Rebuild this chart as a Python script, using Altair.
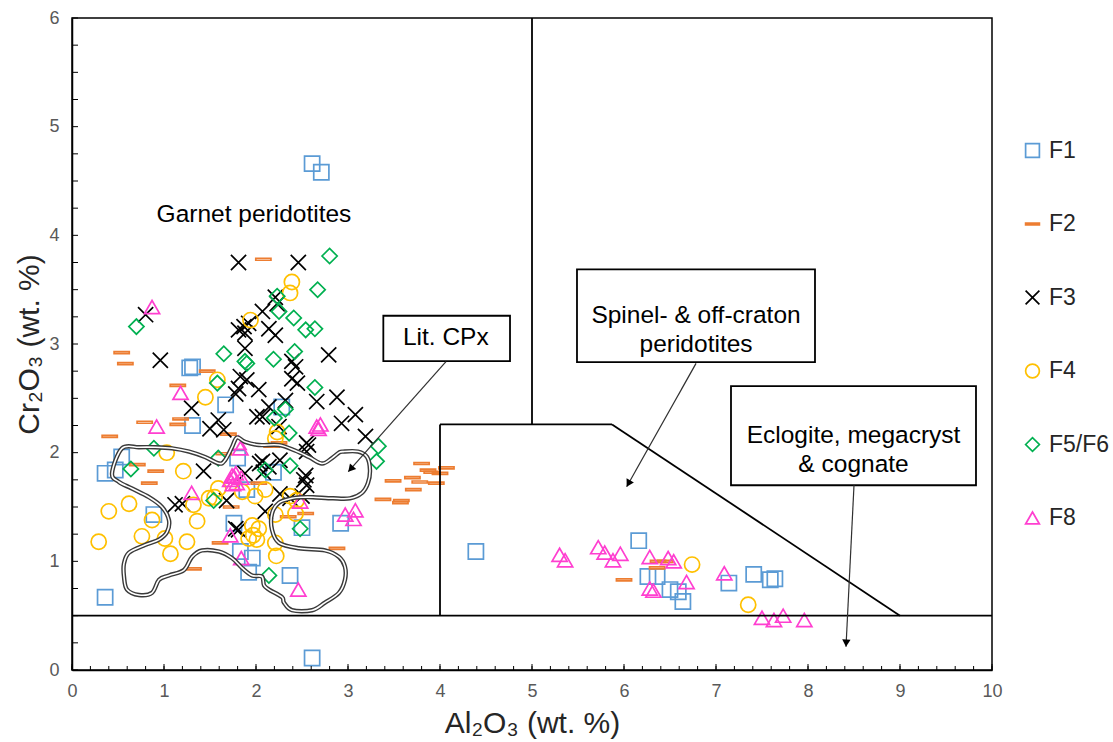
import math
import altair as alt
import pandas as pd

# ---------------- data ----------------
series_names = ["F1", "F2", "F3", "F4", "F5/F6", "F8"]
series_colors = ["#5B9BD5", "#ED7D31", "#000000", "#FFC000", "#00B050", "#FF3FD0"]

f1_x = [2.61, 2.71, 2.61, 0.36, 0.36, 0.47, 0.54, 1.28, 1.31, 1.31, 1.67, 2.28, 1.80, 2.19,
        0.89, 1.76, 1.83, 1.96, 1.92, 2.37, 2.50, 2.92, 1.90,
        4.39, 6.16, 6.26, 6.36, 6.50, 6.59, 6.64, 7.14, 7.41, 7.59, 7.64]
f1_y = [4.66, 4.58, 0.11, 0.67, 1.81, 1.84, 1.96, 2.78, 2.79, 2.25, 2.44, 2.42, 1.95, 1.82,
        1.43, 1.35, 1.09, 1.03, 0.90, 0.87, 1.31, 1.35, 1.66,
        1.09, 1.19, 0.86, 0.86, 0.74, 0.72, 0.63, 0.80, 0.88, 0.83, 0.84]

f2_x = [2.08, 0.54, 0.58, 1.47, 1.15, 0.79, 1.18, 1.15, 0.41, 0.71, 0.91, 1.70, 2.10, 2.17,
        2.25, 1.65, 0.84, 1.73, 1.61, 1.32, 2.03, 2.54, 2.88, 2.35,
        3.80, 3.87, 3.91, 4.07, 4.00, 3.70, 3.78, 3.96, 3.49, 3.71, 3.38, 3.58, 3.57,
        6.00, 6.37, 6.36, 6.45]
f2_y = [3.78, 2.92, 2.82, 2.75, 2.62, 2.28, 2.31, 2.26, 2.15, 1.89, 1.83, 2.17, 2.07, 2.06,
        2.09, 1.99, 1.72, 1.50, 1.17, 0.93, 1.72, 1.44, 1.12, 1.41,
        1.90, 1.84, 1.82, 1.86, 1.81, 1.77, 1.73, 1.72, 1.74, 1.66, 1.57, 1.56, 1.54,
        0.83, 1.00, 0.94, 1.00]

f3_x = [1.81, 2.46, 0.80, 2.21, 2.23, 2.07, 1.81, 1.87, 1.92, 2.14, 2.21, 1.88, 0.96, 1.88,
        2.39, 2.43, 2.79, 1.83, 1.90, 1.81, 1.78, 2.03, 2.39, 2.45, 2.66, 2.88, 3.08, 3.19,
        1.30, 1.50, 1.59, 1.65, 2.01, 2.07, 2.32, 2.14, 2.25, 2.57, 2.55, 2.93, 1.43, 2.07,
        2.14, 2.26, 2.54, 1.88, 2.08, 2.52, 2.55, 1.12, 1.20, 1.68, 2.26, 2.37, 2.50, 2.10,
        1.78, 1.81, 2.04, 2.55]
f3_y = [3.75, 3.75, 3.27, 3.43, 3.37, 3.30, 3.13, 3.16, 3.19, 3.14, 3.08, 3.10, 2.85, 2.96,
        2.84, 2.79, 2.90, 2.70, 2.67, 2.59, 2.54, 2.58, 2.68, 2.64, 2.47, 2.51, 2.35, 2.15,
        2.41, 2.22, 2.30, 2.21, 2.33, 2.33, 2.48, 2.42, 2.24, 2.07, 2.01, 2.27, 1.83, 1.92,
        1.87, 1.93, 1.79, 1.81, 1.82, 1.75, 1.70, 1.52, 1.53, 1.56, 1.62, 1.58, 1.60, 1.46,
        1.30, 1.29, 1.90, 2.09]

f4_x = [2.39, 2.37, 1.94, 1.58, 1.45, 2.23, 2.21, 1.03, 1.21, 0.40, 0.62, 0.87, 0.29, 0.76,
        1.01, 1.25, 1.07, 1.32, 1.36, 1.49, 1.59, 1.85, 1.99, 2.10, 2.21, 2.37, 2.43, 1.96,
        2.03, 1.97, 1.92, 2.01, 2.21, 2.22, 1.55, 2.44, 6.74, 7.35]
f4_y = [3.57, 3.47, 3.22, 2.67, 2.51, 2.19, 2.13, 2.00, 1.83, 1.46, 1.53, 1.38, 1.18, 1.23,
        1.21, 1.18, 1.07, 1.52, 1.37, 1.58, 1.67, 1.64, 1.60, 1.66, 1.43, 1.60, 1.44, 1.33,
        1.30, 1.24, 1.21, 1.20, 1.17, 1.05, 1.59, 1.56, 0.97, 0.60]

f56_x = [2.80, 2.67, 0.70, 2.23, 2.25, 2.41, 2.54, 2.64, 1.65, 1.88, 1.90, 2.19, 2.42, 1.58,
         2.64, 2.32, 2.20, 2.36, 0.89, 1.59, 0.64, 2.37, 2.10, 1.54, 2.48, 2.14, 3.33, 3.31]
f56_y = [3.81, 3.50, 3.16, 3.44, 3.30, 3.24, 3.13, 3.14, 2.91, 2.84, 2.82, 2.86, 2.93, 2.64,
         2.60, 2.40, 2.32, 2.18, 2.04, 1.95, 1.85, 1.88, 1.84, 1.56, 1.30, 0.87, 2.06, 1.92]

f8_x = [0.87, 1.18, 0.92, 2.66, 2.68, 2.70, 1.81, 1.83, 1.74, 1.78, 1.30, 1.72, 1.76, 1.79,
        1.84, 1.75, 1.72, 1.84, 2.48, 2.46, 2.97, 3.08, 3.06,
        5.30, 5.36, 5.72, 5.79, 5.88, 5.96, 6.28, 6.48, 6.54, 6.28, 6.32, 6.68, 7.09,
        7.50, 7.63, 7.73, 7.96]
f8_y = [3.34, 2.55, 2.24, 2.24, 2.22, 2.26, 2.09, 2.04, 1.79, 1.81, 1.63, 1.75, 1.78, 1.72,
        1.77, 1.71, 1.24, 1.03, 1.55, 0.74, 1.43, 1.47, 1.39,
        1.06, 1.01, 1.13, 1.08, 1.01, 1.07, 1.04, 1.03, 1.00, 0.75, 0.73, 0.81, 0.89,
        0.48, 0.46, 0.50, 0.46]

# field boundaries
bound_x = [5.0, 0.0, 4.0, 4.0, 5.87]
bound_y = [2.26, 0.5, 0.5, 2.26, 2.26]
bound_x2 = [5.0, 10.0, 4.0, 5.87, 9.0]
bound_y2 = [6.0, 0.5, 2.26, 2.26, 0.5]

# literature CPx field outline
cpx_x = [0.435, 0.543, 0.728, 0.902, 1.087, 1.272, 1.446, 1.598, 1.663, 1.739, 1.793, 1.880,
         2.033, 2.250, 2.424, 2.576, 2.717, 2.826, 2.902, 2.946, 3.109, 3.207, 3.239, 3.217,
         3.152, 3.022, 2.837, 2.620, 2.511, 2.391, 2.250, 2.174, 2.174, 2.250, 2.467, 2.750,
         2.902, 2.967, 2.967, 2.902, 2.750, 2.609, 2.391, 2.304, 2.283, 2.141, 2.087, 2.065,
         1.957, 1.848, 1.739, 1.598, 1.413, 1.304, 1.217, 1.054, 0.946, 0.870, 0.728, 0.598,
         0.565, 0.565, 0.620, 0.793, 0.946, 1.033, 1.054, 0.978, 0.837, 0.652, 0.511]
cpx_y = [1.81, 2.04, 2.05, 2.05, 2.04, 2.01, 1.96, 1.90, 1.93, 2.05, 2.14, 2.10,
         2.07, 2.07, 2.02, 1.96, 1.90, 1.95, 2.00, 2.01, 2.01, 1.96, 1.84, 1.72,
         1.63, 1.58, 1.58, 1.59, 1.59, 1.58, 1.54, 1.44, 1.29, 1.17, 1.12, 1.10,
         1.04, 0.95, 0.83, 0.71, 0.62, 0.55, 0.55, 0.62, 0.67, 0.74, 0.78, 0.86,
         0.87, 0.94, 1.03, 1.09, 1.10, 1.04, 0.92, 0.87, 0.83, 0.71, 0.69, 0.74,
         0.86, 0.98, 1.08, 1.15, 1.20, 1.27, 1.38, 1.50, 1.59, 1.67, 1.73]

x_tick_labels = list(range(0, 11))
y_tick_labels = list(range(0, 7))

# ---------------- annotations (layout) ----------------
W, H = 920, 652
FONT = "Arial, Liberation Sans, sans-serif"
ANN_FS = 24.5

box_text = ["Lit. CPx", "Spinel- & off-craton\nperidotites", "Eclogite, megacryst\n& cognate"]
box_x1 = [3.384, 5.489, 7.163]
box_x2 = [4.761, 8.076, 9.826]
box_y1 = [3.260, 3.687, 2.613]
box_y2 = [2.843, 2.834, 1.700]
box_tx = [4.063, 6.783, 8.495]
box_ty = [3.052, 3.262, 2.153]

arr_x1 = [4.065, 6.783, 8.500]
arr_y1 = [2.837, 2.822, 1.700]
arr_x2 = [3.003, 6.029, 8.413]
arr_y2 = [1.825, 1.687, 0.214]

# ---------------- tables ----------------
rows = []
for name, xs, ys in zip(series_names,
                        [f1_x, f2_x, f3_x, f4_x, f56_x, f8_x],
                        [f1_y, f2_y, f3_y, f4_y, f56_y, f8_y]):
    for a, b in zip(xs, ys):
        rows.append({"x": a, "y": b, "series": name})
pts = pd.DataFrame(rows)

bounds = pd.DataFrame({"x": bound_x, "y": bound_y, "x2": bound_x2, "y2": bound_y2})
cpx = pd.DataFrame({"x": cpx_x, "y": cpx_y, "i": list(range(len(cpx_x)))})
boxes = pd.DataFrame({"x": box_x1, "x2": box_x2, "y": box_y1, "y2": box_y2})
btext = pd.DataFrame({"x": box_tx, "y": box_ty, "t": box_text})
arrows = pd.DataFrame({"x": arr_x1, "y": arr_y1, "x2": arr_x2, "y2": arr_y2})

sx, sy = W / 10.0, H / 6.0
heads = []
HEAD_SIZE = 70
h_px = math.sqrt(HEAD_SIZE) / 2 * math.sqrt(3) / 2
for a1, b1, a2, b2 in zip(arr_x1, arr_y1, arr_x2, arr_y2):
    dxp = (a2 - a1) * sx
    dyp = -(b2 - b1) * sy
    L = math.hypot(dxp, dyp)
    ang = math.degrees(math.atan2(dxp, -dyp)) % 360
    cx = a2 - (dxp / L) * h_px / sx
    cy = b2 + (dyp / L) * h_px / sy
    heads.append({"x": cx, "y": cy, "a": ang})
heads = pd.DataFrame(heads)

xt = pd.DataFrame({"x": [i / 5 for i in range(51)]})
xt_major = pd.DataFrame({"x": [float(i) for i in range(11)]})
yt = pd.DataFrame({"y": [i / 4 for i in range(25)]})

xscale = alt.Scale(domain=[0, 10], nice=False, zero=False)
yscale = alt.Scale(domain=[0, 6], nice=False, zero=False)

xaxis = alt.Axis(values=x_tick_labels, ticks=False, grid=False,
                 labelFontSize=18, labelColor="#595959", labelFont=FONT, labelPadding=12,
                 labelFlush=False, domainColor="#000000", domainWidth=1.5,
                 titleFontSize=30, titleFont=FONT, titleFontWeight="normal",
                 titleColor="#262626", titleY=53, titleBaseline="middle")
yaxis = alt.Axis(values=y_tick_labels, ticks=False, grid=False,
                 labelFontSize=18, labelColor="#595959", labelFont=FONT, labelPadding=13,
                 labelFlush=False, domainColor="#000000", domainWidth=1.5,
                 titleFontSize=30, titleFont=FONT, titleFontWeight="normal",
                 titleColor="#262626", titleX=-43, titleY=H / 2, titleAngle=270,
                 titleBaseline="middle", titleAlign="center")
XT = "Al₂O₃ (wt. %)"
YT = "Cr₂O₃ (wt. %)"


def X(f):
    return alt.X(f, scale=xscale, axis=xaxis, title=XT)


def Y(f):
    return alt.Y(f, scale=yscale, axis=yaxis, title=YT)


shape_range = ["square", "M-1,-0.13L1,-0.13L1,0.13L-1,0.13Z", "M-1,-1L1,1M-1,1L1,-1",
               "circle", "diamond", "triangle-up"]
legend = alt.Legend(title=None, orient="none", legendX=949, legendY=121, padding=0,
                    labelFontSize=23, labelFont=FONT, labelColor="#262626",
                    symbolSize=190, symbolStrokeWidth=1.7, rowPadding=49.5, labelOffset=5)

points = alt.Chart(pts).mark_point(filled=False, size=230, opacity=1, strokeWidth=1.7).encode(
    x=X("x:Q"), y=Y("y:Q"),
    color=alt.Color("series:N", scale=alt.Scale(domain=series_names, range=series_colors),
                    legend=legend),
    shape=alt.Shape("series:N", scale=alt.Scale(domain=series_names, range=shape_range),
                    legend=legend),
)

bound_layer = alt.Chart(bounds).mark_rule(color="#000000", strokeWidth=1.8).encode(
    x=X("x:Q"), y=Y("y:Q"), x2="x2:Q", y2="y2:Q")

cpx_outer = alt.Chart(cpx).mark_line(color="#3a3a3a", strokeWidth=4.4,
                                     interpolate="cardinal-closed", strokeJoin="round").encode(
    x=X("x:Q"), y=Y("y:Q"), order="i:Q")
cpx_inner = alt.Chart(cpx).mark_line(color="#ffffff", strokeWidth=1.6,
                                     interpolate="cardinal-closed", strokeJoin="round").encode(
    x=X("x:Q"), y=Y("y:Q"), order="i:Q")

box_layer = alt.Chart(boxes).mark_rect(fill="#ffffff", stroke="#000000", strokeWidth=1.8).encode(
    x=X("x:Q"), x2="x2:Q", y=Y("y:Q"), y2="y2:Q")

box_text_layer = alt.Chart(btext).mark_text(font=FONT, fontSize=ANN_FS, color="#000000",
                                            lineBreak="\n", lineHeight=29,
                                            align="center", baseline="middle").encode(
    x=X("x:Q"), y=Y("y:Q"), text="t:N")

garnet = alt.Chart(pd.DataFrame({"x": [1.978], "y": [4.187], "t": ["Garnet peridotites"]})).mark_text(
    font=FONT, fontSize=ANN_FS, color="#000000", align="center", baseline="middle").encode(
    x=X("x:Q"), y=Y("y:Q"), text="t:N")

arrow_lines = alt.Chart(arrows).mark_rule(color="#303030", strokeWidth=1.2).encode(
    x=X("x:Q"), y=Y("y:Q"), x2="x2:Q", y2="y2:Q")
arrow_heads = alt.Chart(heads).mark_point(shape="triangle-up", filled=True, size=HEAD_SIZE,
                                          color="#000000", opacity=1).encode(
    x=X("x:Q"), y=Y("y:Q"), angle=alt.Angle("a:Q", scale=None))

xticks = alt.Chart(xt).mark_rule(color="#000000", strokeWidth=1).encode(
    x=X("x:Q"), y=alt.value(H), y2=alt.value(H - 4))
xticks_major = alt.Chart(xt_major).mark_rule(color="#000000", strokeWidth=1).encode(
    x=X("x:Q"), y=alt.value(H), y2=alt.value(H - 6))
yticks = alt.Chart(yt).mark_rule(color="#000000", strokeWidth=1).encode(
    y=Y("y:Q"), x=alt.value(0), x2=alt.value(6))

chart = alt.layer(
    points, bound_layer, box_layer, cpx_outer, cpx_inner, arrow_lines, arrow_heads,
    box_text_layer, garnet, xticks, xticks_major, yticks
).properties(
    width=W, height=H,
    padding={"left": 72, "top": 18, "right": 121, "bottom": 72},
    autosize=alt.AutoSizeParams(type="none"),
    background="#ffffff",
).configure_view(stroke="#000000", strokeWidth=1.5)

chart.save("out.html", embed_options={"renderer": "svg", "actions": False})
